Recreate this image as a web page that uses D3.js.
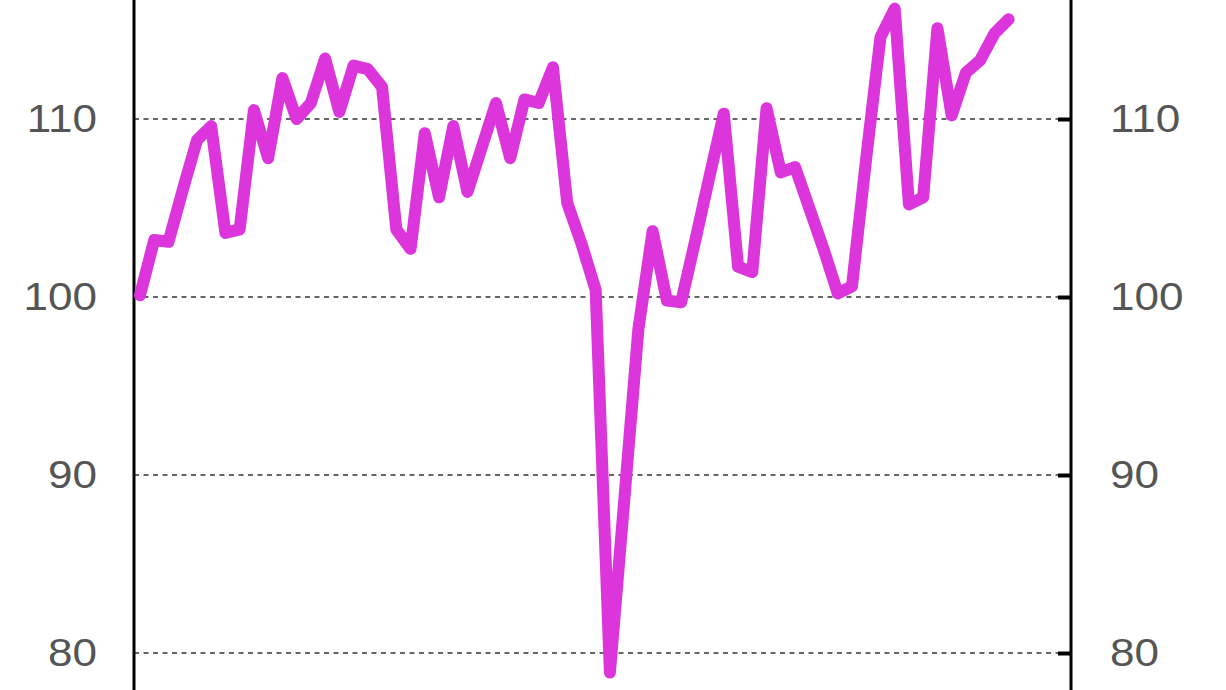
<!DOCTYPE html>
<html>
<head>
<meta charset="utf-8">
<script src="https://cdn.jsdelivr.net/npm/d3@7"></script>
<style>
  html, body { margin: 0; padding: 0; background: #fff; }
  svg { display: block; }
</style>
</head>
<body>
<svg id="chart" width="1226" height="690"></svg>
<script>
// ---- data ----
const periods = d3.range(0, 62); // sequential observation index
const values = [
  100.1, 103.2, 103.1, 106.0, 108.8, 109.6, 103.6, 103.8, 110.5, 107.8,
  112.3, 110.0, 110.9, 113.4, 110.4, 113.0, 112.8, 111.8, 103.8, 102.7,
  109.2, 105.6, 109.6, 105.9, 108.4, 110.9, 107.8, 111.1, 110.9, 112.9,
  105.3, 103.0, 100.4, 78.9, 88.5, 98.2, 103.7, 99.8, 99.7, 103.2,
  106.8, 110.3, 101.7, 101.4, 110.6, 107.0, 107.3, 105.0, 102.7, 100.2,
  100.6, 107.8, 114.6, 116.2, 105.2, 105.6, 115.1, 110.2, 112.6, 113.3,
  114.8, 115.6
];
const yTicks = [80, 90, 100, 110];
const tickLabels = ["80", "90", "100", "110"];

// ---- layout ----
const W = 1226, H = 690;
const plotLeft = 134, plotRight = 1071;
const svg = d3.select("#chart");

const x = d3.scaleLinear().domain([-0.42, 65.38]).range([plotLeft, plotRight]);
const y = d3.scaleLinear().domain([100, 110]).range([297, 119]);

const FONT = "'Liberation Sans', Arial, Helvetica, sans-serif";
const SX = 1.13; // horizontal stretch of label glyphs

// gridlines
svg.append("g")
  .selectAll("line")
  .data(yTicks)
  .join("line")
  .attr("x1", plotLeft)
  .attr("x2", plotRight)
  .attr("y1", d => y(d))
  .attr("y2", d => y(d))
  .attr("stroke", "#333")
  .attr("stroke-width", 1.3)
  .attr("stroke-dasharray", "5,4.5");

// left axis
const leftAxis = d3.axisLeft(y).tickValues(yTicks)
  .tickFormat((d, i) => tickLabels[i]).tickSize(0);
const gL = svg.append("g").attr("transform", `translate(${plotLeft},0)`).call(leftAxis);
gL.select(".domain").remove();
gL.selectAll("text")
  .attr("x", -37 / SX)
  .attr("transform", `scale(${SX},1)`)
  .attr("font-family", FONT)
  .attr("font-size", 39)
  .attr("fill", "#555");

// right axis
const rightAxis = d3.axisRight(y).tickValues(yTicks)
  .tickFormat((d, i) => tickLabels[i]).tickSize(0);
const gR = svg.append("g").attr("transform", `translate(${plotRight},0)`).call(rightAxis);
gR.select(".domain").remove();
gR.selectAll("text")
  .attr("x", 39 / SX)
  .attr("transform", `scale(${SX},1)`)
  .attr("font-family", FONT)
  .attr("font-size", 39)
  .attr("fill", "#555");
// inward tick marks on right axis
gR.selectAll(".tick").append("line")
  .attr("x1", -13).attr("x2", 0).attr("y1", 0).attr("y2", 0)
  .attr("stroke", "#000").attr("stroke-width", 4);

// axis lines spanning the visible height
svg.append("line").attr("x1", plotLeft).attr("x2", plotLeft).attr("y1", 0).attr("y2", H)
  .attr("stroke", "#000").attr("stroke-width", 3);
svg.append("line").attr("x1", plotRight).attr("x2", plotRight).attr("y1", 0).attr("y2", H)
  .attr("stroke", "#000").attr("stroke-width", 3);

// data line
const line = d3.line()
  .x((d, i) => x(periods[i]))
  .y(d => y(d));

svg.append("path")
  .datum(values)
  .attr("d", line)
  .attr("fill", "none")
  .attr("stroke", "#dc35dc")
  .attr("stroke-width", 12)
  .attr("stroke-linejoin", "round")
  .attr("stroke-linecap", "round");
</script>
</body>
</html>
